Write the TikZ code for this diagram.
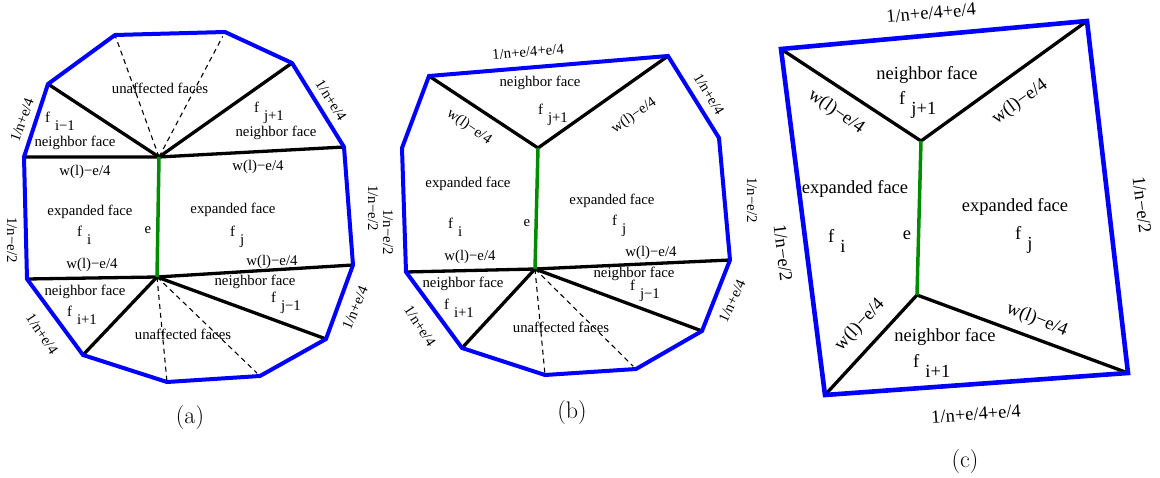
\documentclass[tikz,border=0pt]{standalone}
\usepackage{fontspec}
\newfontfamily\tm{Liberation Serif}
\definecolor{egreen}{RGB}{0,140,0}
\newcommand\fsub[1]{f\hspace{0.33em}\raisebox{-0.5em}{#1}}
\begin{document}
\begin{tikzpicture}[x=1pt,y=-1pt,
  bl/.style={draw=blue, line width=4pt, line join=miter},
  blc/.style={draw=blue, line width=4.6pt, line join=miter},
  bk/.style={draw=black, line width=3.3pt},
  gr/.style={draw=egreen, line width=3.5pt},
  ds/.style={draw=black, line width=1.1pt, dash pattern=on 5pt off 4pt},
  lab/.style={font=\tm\fontsize{14.8}{16}\selectfont, inner sep=0pt},
  labc/.style={font=\tm\fontsize{18.5}{20}\selectfont, inner sep=0pt},
  captxt/.style={font=\fontsize{24}{28}\selectfont, inner sep=0pt}]
\path[use as bounding box] (0,0) rectangle (1160,478);

% ---------------- panel (a)
\coordinate (a1) at (115,35);
\coordinate (a2) at (225,32);
\coordinate (a3) at (292,63);
\coordinate (a4) at (344,147);
\coordinate (a5) at (353,265);
\coordinate (a6) at (326,339);
\coordinate (a7) at (260,376);
\coordinate (a8) at (167,382);
\coordinate (a9) at (83,355);
\coordinate (a10) at (27,279);
\coordinate (a11) at (24,157);
\coordinate (a12) at (48,84);
\coordinate (ha) at (159,157);
\coordinate (hb) at (157,277);

\draw[ds] (ha) -- (a1);
\draw[ds, shorten >=5pt] (ha) -- (a2);
\draw[ds] (hb) -- (a8);
\draw[ds, shorten >=4pt] (hb) -- (a7);
\draw[bk] (a11) -- (ha) -- (a4);
\draw[bk] (a12) -- (ha) -- (a3);
\draw[bk] (a10) -- (hb) -- (a5);
\draw[bk] (a9) -- (hb) -- (a6);
\draw[gr] (ha) -- (hb);
\draw[bl] (a1) -- (a2) -- (a3) -- (a4) -- (a5) -- (a6) -- (a7) -- (a8) -- (a9) -- (a10) -- (a11) -- (a12) -- cycle;

\node[lab] (ua1) at (160,88) {unaffected faces};
\node[lab, anchor=base west] (fa1) at (45,123) {\fsub{i−1}};
\node[lab] (na1) at (75,143) {neighbor face};
\node[lab] (wa1) at (85,172) {w(l)−e/4};
\node[lab, anchor=base west] (fa2) at (254,113) {\fsub{j+1}};
\node[lab] (na2) at (276,133) {neighbor face};
\node[lab] (wa2) at (258,167) {w(l)−e/4};
\node[lab] (xa1) at (90,212) {expanded face};
\node[lab, anchor=base west] (fa3) at (77,237) {\fsub{i}};
\node[lab] (ea) at (148,230) {e};
\node[lab] (xa2) at (233,210) {expanded face};
\node[lab, anchor=base west] (fa4) at (230,237) {\fsub{j}};
\node[lab] (wa3) at (92,265) {w(l)−e/4};
\node[lab] (wa4) at (272,262) {w(l)−e/4};
\node[lab] (na3) at (85,292) {neighbor face};
\node[lab, anchor=base west] (fa5) at (67,317) {\fsub{i+1}};
\node[lab] (na4) at (255,282) {neighbor face};
\node[lab, anchor=base west] (fa6) at (271,303) {\fsub{j−1}};
\node[lab] (ua2) at (183,334) {unaffected faces};
\node[lab, rotate=70] (la1) at (22,120) {1/n+e/4};
\node[lab, rotate=-58] (la2) at (331,100) {1/n+e/4};
\node[lab, rotate=-90] (la3) at (12,240) {1/n−e/2};
\node[lab, rotate=-90] (la4) at (373,208) {1/n−e/2};
\node[lab, rotate=-56] (la5) at (42,334) {1/n+e/4};
\node[lab, rotate=67] (la6) at (355,308) {1/n+e/4};
\node[captxt] (capa) at (190,418) {(a)};

% ---------------- panel (b)
\coordinate (b1) at (429,76);
\coordinate (b2) at (668,56);
\coordinate (b3) at (719,138);
\coordinate (b4) at (730,260);
\coordinate (b5) at (702,331);
\coordinate (b6) at (636,369);
\coordinate (b7) at (545,375);
\coordinate (b8) at (462,348);
\coordinate (b9) at (406,272);
\coordinate (b10) at (402,148);
\coordinate (hc) at (538,148);
\coordinate (hd) at (535,269);

\draw[ds] (hd) -- (b7);
\draw[ds, shorten >=4pt] (hd) -- (b6);
\draw[bk] (b1) -- (hc) -- (b2);
\draw[bk] (b9) -- (hd) -- (b4);
\draw[bk] (b8) -- (hd) -- (b5);
\draw[gr] (hc) -- (hd);
\draw[bl] (b1) -- (b2) -- (b3) -- (b4) -- (b5) -- (b6) -- (b7) -- (b8) -- (b9) -- (b10) -- cycle;

\node[lab, rotate=5] (tb) at (528,52) {1/n+e/4+e/4};
\node[lab] (nb1) at (540,83) {neighbor face};
\node[lab, anchor=base west] (fb1) at (538,115) {\fsub{j+1}};
\node[lab, rotate=-35] (wb1) at (469,127) {w(l)−e/4};
\node[lab, rotate=35] (wb2) at (634,116) {w(l)−e/4};
\node[lab, rotate=-59] (lb1) at (709,94) {1/n+e/4};
\node[lab, rotate=-90] (lb2) at (752,200) {1/n−e/2};
\node[lab, rotate=-90] (lb3) at (388,232) {1/n−e/2};
\node[lab] (xb1) at (468,184) {expanded face};
\node[lab, anchor=base west] (fb2) at (448,229) {\fsub{i}};
\node[lab] (eb) at (527,223) {e};
\node[lab] (xb2) at (612,201) {expanded face};
\node[lab, anchor=base west] (fb3) at (612,226) {\fsub{j}};
\node[lab] (wb3) at (470,257) {w(l)−e/4};
\node[lab] (wb4) at (651,253) {w(l)−e/4};
\node[lab] (nb2) at (463,284) {neighbor face};
\node[lab, anchor=base west] (fb4) at (444,310) {\fsub{i+1}};
\node[lab] (nb3) at (634,274) {neighbor face};
\node[lab, anchor=base west] (fb5) at (630,291) {\fsub{j−1}};
\node[lab] (ub) at (561,327) {unaffected faces};
\node[lab, rotate=-57] (lb4) at (420,326) {1/n+e/4};
\node[lab, rotate=65] (lb5) at (732,301) {1/n+e/4};
\node[captxt] (capb) at (572,413) {(b)};

% ---------------- panel (c)
\coordinate (c1) at (781,49);
\coordinate (c2) at (1087,21);
\coordinate (c3) at (1128,373);
\coordinate (c4) at (825,395);
\coordinate (he) at (921,141);
\coordinate (hf) at (917,295);

\draw[bk] (c1) -- (he) -- (c2);
\draw[bk] (c4) -- (hf) -- (c3);
\draw[gr] (he) -- (hf);
\draw[blc] (c1) -- (c2) -- (c3) -- (c4) -- cycle;

\node[labc, rotate=5] (tc) at (931,13) {1/n+e/4+e/4};
\node[labc] (nc1) at (927,75) {neighbor face};
\node[labc, anchor=base west] (fc1) at (899,105) {\fsub{j+1}};
\node[labc, rotate=-35] (wc1) at (836,112) {w(l)−e/4};
\node[labc, rotate=36] (wc2) at (1020,102) {w(l)−e/4};
\node[labc, rotate=-83] (lc1) at (1142,205) {1/n−e/2};
\node[labc, rotate=-83] (lc2) at (783,253) {1/n−e/2};
\node[labc] (xc1) at (855,189) {expanded face};
\node[labc, anchor=base west] (fc2) at (828,243) {\fsub{i}};
\node[labc] (ec) at (907,235) {e};
\node[labc] (xc2) at (1015,207) {expanded face};
\node[labc, anchor=base west] (fc3) at (1015,240) {\fsub{j}};
\node[labc, rotate=47] (wc3) at (860,325) {w(l)−e/4};
\node[labc, rotate=-22] (wc4) at (1037,320) {w(l)−e/4};
\node[labc] (nc2) at (945,337) {neighbor face};
\node[labc, anchor=base west] (fc4) at (913,368) {\fsub{i+1}};
\node[labc, rotate=4] (bc) at (976,414) {1/n+e/4+e/4};
\node[captxt] (capc) at (965,462) {(c)};
\end{tikzpicture}
\end{document}
